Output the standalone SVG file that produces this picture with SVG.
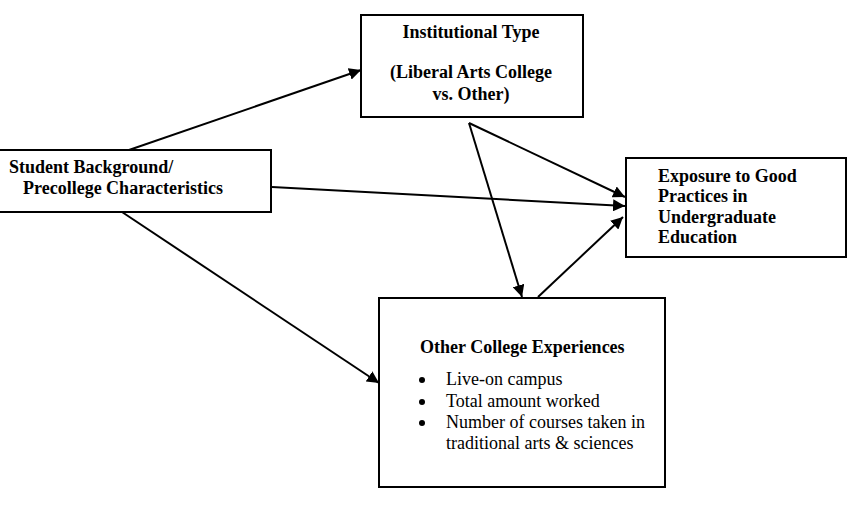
<svg xmlns="http://www.w3.org/2000/svg" width="850" height="512" viewBox="0 0 850 512">
<style>
.box{fill:#fff;stroke:#000;stroke-width:2}
.b{font-family:"Liberation Serif",serif;font-weight:bold;font-size:18px;fill:#000}
.r{font-family:"Liberation Serif",serif;font-size:18px;fill:#000}
.c{stroke:#000;stroke-width:2;fill:none;marker-end:url(#ah)}
</style>
<defs>
<marker id="ah" viewBox="0 0 10 10" refX="10" refY="5" markerWidth="6" markerHeight="6" markerUnits="strokeWidth" orient="auto">
<path d="M0,0 L10,5 L0,10 z" fill="#000"/>
</marker>
</defs>
<g id="connectors">
<line class="c" x1="129" y1="150" x2="361" y2="70"/>
<line class="c" x1="272" y1="187" x2="625" y2="206"/>
<line class="c" x1="469" y1="123" x2="625" y2="197"/>
<line class="c" x1="469" y1="123" x2="522" y2="297"/>
<line class="c" x1="538" y1="297" x2="623" y2="217"/>
<line class="c" x1="122" y1="212" x2="379" y2="383"/>
</g>
<g id="student">
<rect class="box" x="-2" y="150" width="273" height="62"/>
<text class="b" x="9" y="173">Student Background/</text>
<text class="b" x="23" y="194">Precollege Characteristics</text>
</g>
<g id="institutional">
<rect class="box" x="361" y="15" width="222" height="102"/>
<text class="b" x="471" y="38" text-anchor="middle">Institutional Type</text>
<text class="b" x="471" y="78" text-anchor="middle">(Liberal Arts College</text>
<text class="b" x="471" y="100" text-anchor="middle">vs. Other)</text>
</g>
<g id="exposure">
<rect class="box" x="626" y="158" width="220" height="99"/>
<text class="b" x="658" y="182">Exposure to Good</text>
<text class="b" x="658" y="202">Practices in</text>
<text class="b" x="658" y="223">Undergraduate</text>
<text class="b" x="658" y="243">Education</text>
</g>
<g id="other">
<rect class="box" x="379" y="298" width="286" height="189"/>
<text class="b" x="420" y="353">Other College Experiences</text>
<circle cx="422" cy="380" r="3"/>
<circle cx="422" cy="402" r="3"/>
<circle cx="422" cy="423" r="3"/>
<text class="r" x="446" y="385">Live-on campus</text>
<text class="r" x="446" y="407">Total amount worked</text>
<text class="r" x="446" y="428">Number of courses taken in</text>
<text class="r" x="446" y="449">traditional arts &amp; sciences</text>
</g>
</svg>
